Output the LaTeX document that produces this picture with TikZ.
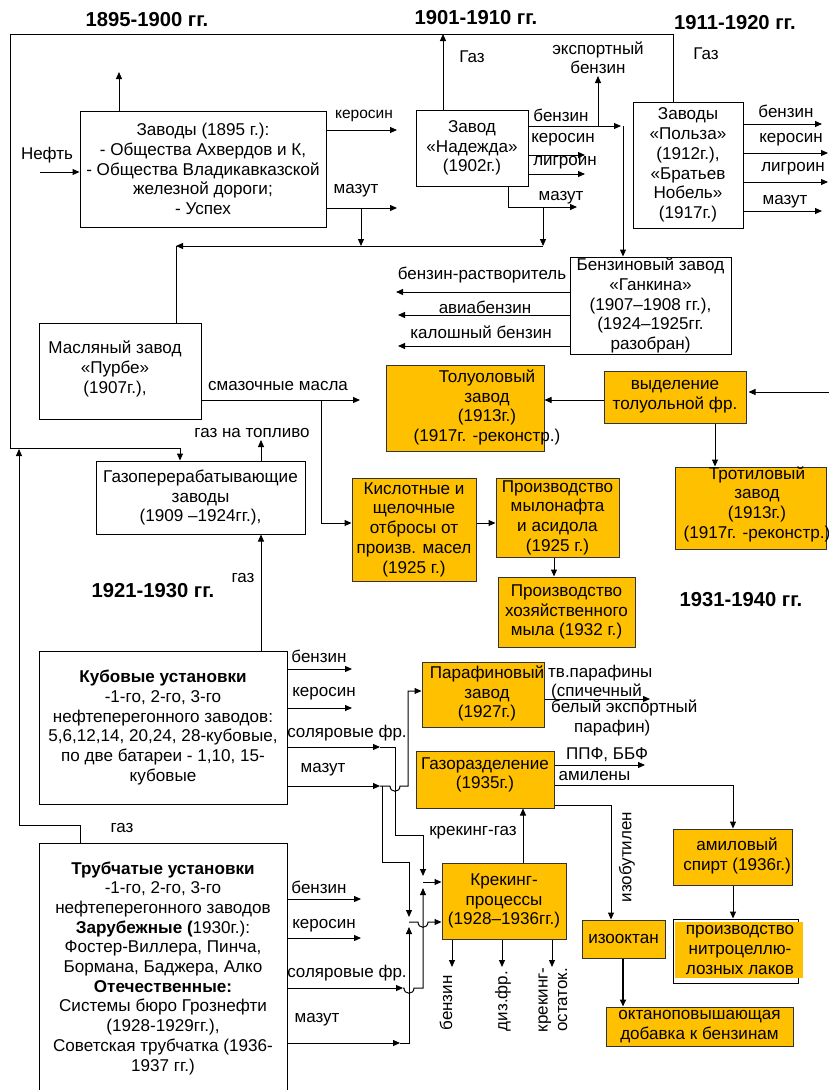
\documentclass[tikz,border=0pt]{standalone}
\usepackage{fontspec}
\setmainfont{Liberation Sans}
\usetikzlibrary{arrows.meta}
\definecolor{orng}{HTML}{FFC000}
\newcommand\bxf{\fontsize{17.1}{19.7}\selectfont}
\newcommand\lbf{\fontsize{17}{19.5}\selectfont}
\newcommand\hdf{\fontsize{20.2}{22}\selectfont\bfseries}
\begin{document}
\begin{tikzpicture}[x=1pt,y=-1pt,
 box/.style={draw=black, line width=1pt, inner sep=0pt, align=center, font=\bxf},
 obox/.style={box, fill=orng, draw=black!80},
 txt/.style={inner sep=0pt, align=center, font=\bxf},
 lbl/.style={inner sep=0pt, align=center, font=\lbf},
 hdr/.style={inner sep=0pt, font=\hdf},
 ln/.style={line width=1pt, draw=black},
 arr/.style={ln, -{Triangle[length=7pt,width=6pt]}}]
\useasboundingbox (0,0) rectangle (829,1090);
\fill[white] (0,0) rectangle (829,1090);

% headers
\node[hdr] (h1) at (147,20) {1895-1900 гг.};
\node[hdr] (h2) at (476,18) {1901-1910 гг.};
\node[hdr] (h3) at (735,23) {1911-1920 гг.};
\node[hdr] (h4) at (153,591) {1921-1930 гг.};
\node[hdr] (h5) at (741,600) {1931-1940 гг.};

% white boxes
\node[box, minimum width=246pt, minimum height=116pt] (z1) at (203,169)
 {Заводы (1895 г.):\\- Общества Ахвердов и К,\\- Общества Владикавказской\\железной дороги;\\- Успех};
\node[box, minimum width=112pt, minimum height=76pt] (nad) at (472,148)
 {Завод\\«Надежда»\\(1902г.)};
\node[box, minimum width=110pt, minimum height=126pt] (pol) at (688,165)
 {Заводы\\«Польза»\\(1912г.),\\«Братьев\\Нобель»\\(1917г.)};
\node[box, minimum width=161pt, minimum height=97pt] (gank) at (650.5,305.5)
 {Бензиновый завод\\«Ганкина»\\(1907–1908 гг.),\\(1924–1925гг.\\разобран)};
\node[box, minimum width=162pt, minimum height=96pt] (masl) at (120,371) {};
\node[txt] (maslt) at (115,369) {Масляный завод\\«Пурбе»\\(1907г.),};
\node[box, minimum width=209pt, minimum height=73pt] (gaz) at (200.5,497.5)
 {Газоперерабатывающие\\заводы\\(1909 –1924гг.),};
\node[box, minimum width=248pt, minimum height=153pt] (kub) at (163,727.5)
 {\textbf{Кубовые установки}\\-1-го, 2-го, 3-го\\нефтеперегонного заводов:\\5,6,12,14, 20,24, 28-кубовые,\\по две батареи - 1,10, 15-\\кубовые};
\node[box, minimum width=248pt, minimum height=257pt] (trub) at (163,971.5) {};
\node[txt] (trubt) at (163,968)
 {\textbf{Трубчатые установки}\\-1-го, 2-го, 3-го\\нефтеперегонного заводов\\\textbf{Зарубежные (}1930г.):\\Фостер-Виллера, Пинча,\\Бормана, Баджера, Алко\\\textbf{Отечественные:}\\Системы бюро Грознефти\\(1928-1929гг.),\\Советская трубчатка (1936-\\1937 гг.)};

% orange boxes
\node[obox, minimum width=158pt, minimum height=86pt] (tol) at (465,408) {};
\node[txt] (tolt) at (487,407.5) {Толуоловый\\завод\\(1913г.)\\(1917г. -реконстр.)};
\node[obox, minimum width=142pt, minimum height=52pt] (vyd) at (675,397)
 {выделение\\толуольной фр.};
\node[obox, minimum width=151pt, minimum height=82pt] (trot) at (750.5,508) {};
\node[txt] (trott) at (757,504) {Тротиловый\\завод\\(1913г.)\\(1917г. -реконстр.)};
\node[obox, minimum width=124pt, minimum height=103pt] (kisl) at (414,529.5)
 {Кислотные и\\щелочные\\отбросы от\\произв. масел\\(1925 г.)};
\node[obox, minimum width=123pt, minimum height=79pt] (myl) at (557.5,517.5)
 {Производство\\мылонафта\\и асидола\\(1925 г.)};
\node[obox, minimum width=137pt, minimum height=70pt] (hoz) at (566.5,612)
 {Производство\\хозяйственного\\мыла (1932 г.)};
\node[obox, minimum width=122pt, minimum height=65pt] (par) at (483,694.5) {};
\node[txt] (part) at (487,693.5) {Парафиновый\\завод\\(1927г.)};
\node[obox, minimum width=138pt, minimum height=57pt] (gr) at (485,779.5) {};
\node[txt] (grt) at (485,775) {Газоразделение\\(1935г.)};
\node[obox, minimum width=124pt, minimum height=76pt] (krek) at (504,901)
 {Крекинг-\\процессы\\(1928–1936гг.)};
\node[obox, minimum width=83pt, minimum height=38pt] (izo) at (623.5,939) {изооктан};
\node[obox, minimum width=187pt, minimum height=39pt] (okt) at (699.5,1026.5)
 {октаноповышающая\\добавка к бензинам};
\node[obox, minimum width=119pt, minimum height=56pt] (amil) at (732.5,857) {};
\node[txt] (amilt) at (737,856) {амиловый\\спирт (1936г.)};
\node[box, minimum width=125pt, minimum height=64pt] (nitro) at (735.5,951) {};
\fill[orng] (675,922) rectangle (803,978);
\node[txt] (nitrot) at (740,950) {производство\\нитроцеллю-\\лозных лаков};

% labels
\node[lbl] at (47,155) {Нефть};
\node[lbl, font=\fontsize{15.5}{18}\selectfont] at (364,116) {керосин};
\node[lbl] at (356,191) {мазут};
\node[lbl] at (472,57) {Газ};
\node[lbl] at (598,58) {экспортный\\бензин};
\node[lbl] at (561,115) {бензин};
\node[lbl] at (563,140) {керосин};
\node[lbl] at (565,163) {лигроин};
\node[lbl] at (561,198) {мазут};
\node[lbl] at (706,54) {Газ};
\node[lbl] at (786,111) {бензин};
\node[lbl] at (791,140) {керосин};
\node[lbl] at (793,169) {лигроин};
\node[lbl] at (785,202) {мазут};
\node[lbl] at (482,275) {бензин-растворитель};
\node[lbl] at (485,307) {авиабензин};
\node[lbl] at (481,332) {калошный бензин};
\node[lbl] at (278,386) {смазочные масла};
\node[lbl] at (252,433) {газ на топливо};
\node[lbl] at (243,578) {газ};
\node[lbl] at (319,656) {бензин};
\node[lbl] at (324,694) {керосин};
\node[lbl] at (347,733) {соляровые фр.};
\node[lbl] at (323,770) {мазут};
\node[lbl] at (122,828) {газ};
\node[lbl] at (319,887) {бензин};
\node[lbl] at (324,926) {керосин};
\node[lbl] at (347,973) {соляровые фр.};
\node[lbl] at (317,1020) {мазут};
\node[lbl, anchor=west] at (548,673) {тв.парафины};
\node[lbl, anchor=west] at (551,692) {(спичечный};
\node[lbl, anchor=west] at (551,708) {белый экспортный};
\node[lbl, anchor=west] at (574,728) {парафин)};
\node[lbl] at (607,755) {ППФ, ББФ};
\node[lbl] at (594.5,776) {амилены};
\node[lbl] at (473,833) {крекинг-газ};
\node[lbl, rotate=90] at (627,857) {изобутилен};
\node[lbl, rotate=90] at (446,1003) {бензин};
\node[lbl, rotate=90] at (503,1001) {диз.фр.};
\node[lbl, rotate=90] at (553,1000) {крекинг-\\остаток.};

% connectors
\draw[arr] (40,172) -- (z1.west |- 0,172);
\draw[arr] (z1.north -| 119,0) -- (119,72);
\draw[arr] (z1.east |- 0,130) -- (397,130);
\draw[arr] (z1.east |- 0,208) -- (397,208);
\draw[arr] (361,208) -- (361,246);
\draw[arr] (543,246) -- (176,246);
\draw[ln] (176,246) -- (masl.north -| 176,0);
\draw[arr] (nad.north -| 443,0) -- (443,34);
\draw[arr] (nad.east |- 0,126) -- (621,126);
\draw[arr] (598,126) -- (598,76);
\draw[arr] (623,126) -- (gank.north -| 623,0);
\draw[arr] (nad.east |- 0,155) -- (585,155);
\draw[arr] (nad.east |- 0,174) -- (585,174);
\draw[arr] (nad.south -| 508,0) -- (508,207) -- (577,207);
\draw[arr] (543,207) -- (543,246);
\draw[arr] (pol.north -| 673,0) -- (673,34) -- (10,34) -- (10,448) -- (180,448) -- (gaz.north -| 180,0);
\draw[arr] (pol.east |- 0,124) -- (822,124);
\draw[arr] (pol.east |- 0,153) -- (828,153);
\draw[arr] (pol.east |- 0,182) -- (828,182);
\draw[arr] (pol.east |- 0,211) -- (822,211);
\draw[arr] (gank.west |- 0,292) -- (396,292);
\draw[arr] (gank.west |- 0,315) -- (398,315);
\draw[arr] (gank.west |- 0,346) -- (398,346);
\draw[arr] (masl.east |- 0,400) -- (360,400);
\draw[arr] (321,400) -- (321,523) -- (kisl.west |- 0,523);
\draw[arr] (gaz.north -| 261,0) -- (261,440);
\draw[arr] (kub.north -| 261,0) -- (gaz.south -| 261,0);
\draw[arr] (vyd.west |- 0,400) -- (tol.east |- 0,400);
\draw[arr] (829,392) -- ([xshift=2pt]vyd.east |- 0,392);
\draw[arr] (vyd.south -| 715,0) -- (trot.north -| 715,0);
\draw[arr] (kisl.east |- 0,523) -- (myl.west |- 0,523);
\draw[arr] (myl.south -| 554,0) -- (hoz.north -| 554,0);
% kub outputs
\draw[arr] (kub.east |- 0,669) -- (352,669);
\draw[arr] (kub.east |- 0,708) -- (352,708);
\draw[arr] (kub.east |- 0,747) -- (380,747);
\draw[arr] (380,747) -- (395,747) -- (395,835) -- (423,835) -- (423,876);
\draw[arr] (kub.east |- 0,786) -- (380,786);
\draw[arr] (380,786) -- (390,786) .. controls (390,793) and (400,793) .. (400,786) -- (408,786) -- (408,691) -- (par.west |- 0,691);
\draw[arr] (382,786) -- (382,862) -- (409,862) -- (409,917);
% trub outputs
\draw[arr] (trub.north -| 80,0) -- (80,825) -- (19,825) -- (19,449);
\draw[arr] (trub.east |- 0,899) -- (361,899);
\draw[arr] (trub.east |- 0,938) -- (361,938);
\draw[arr] (trub.east |- 0,988) -- (403,988);
\draw[arr] (403,988) -- (404,988) .. controls (404,995) and (414,995) .. (414,988) -- (423,988) -- (423,888);
\draw[arr] (trub.east |- 0,1043) -- (400,1043);
\draw[arr] (400,1043) -- (409,1043) -- (409,927);
\draw[arr] (423,882) -- (krek.west |- 0,882);
\draw[arr] (409,922) -- (418,922) .. controls (418,929) and (428,929) .. (428,922) -- (krek.west |- 0,922);
% krek, par, gr
\draw[arr] (krek.north -| 523,0) -- (gr.south -| 523,0);
\draw[arr] (krek.south -| 452,0) -- (452,967);
\draw[arr] (krek.south -| 502,0) -- (502,967);
\draw[arr] (krek.south -| 552,0) -- (552,967);
\draw[arr] (par.east |- 0,699) -- (650,699);
\draw[arr] (gr.east |- 0,765) -- (645,765);
\draw[arr] (gr.east |- 0,785) -- (733,785) -- (amil.north -| 733,0);
\draw[arr] (gr.east |- 0,805) -- (611,805) -- (izo.north -| 611,0);
\draw[arr] (amil.south -| 733,0) -- (nitro.north -| 733,0);
\draw[arr, line width=1.5pt] (izo.south -| 623,0) -- (okt.north -| 623,0);
\end{tikzpicture}
\end{document}
